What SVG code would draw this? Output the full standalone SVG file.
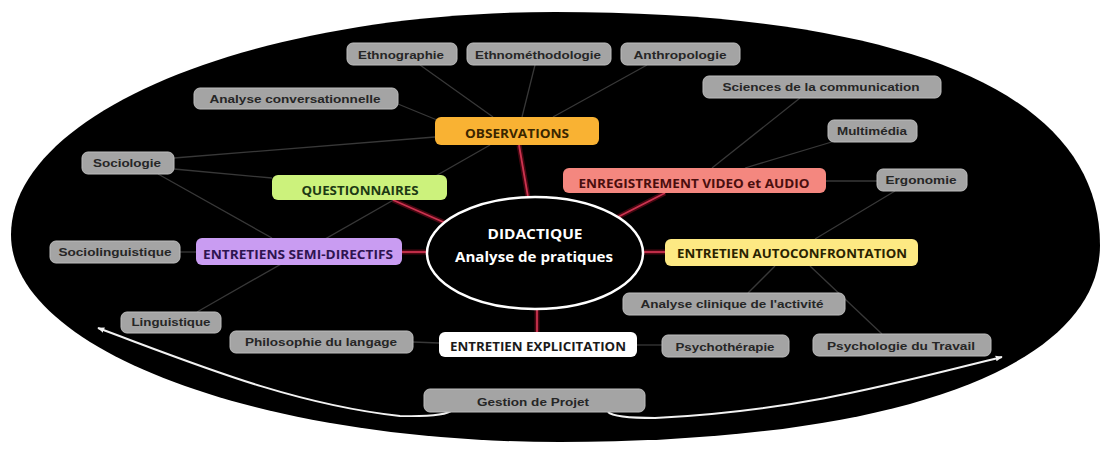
<svg xmlns="http://www.w3.org/2000/svg" width="1102" height="452" viewBox="0 0 1102 452">
<defs>
<style>
.g rect{fill:#a4a4a4;stroke:#bdbdbd;stroke-width:1}
.g text{font-family:"Liberation Sans",Arial,sans-serif;font-weight:bold;font-size:11.5px;fill:#262626;text-anchor:middle}
.c text{font-family:"Open Sans","Liberation Sans",sans-serif;font-weight:bold;font-size:12.5px;text-anchor:middle}
.gl{stroke:#383838;stroke-width:1.3;fill:none}
.rg{stroke:#ff1a3c;stroke-opacity:.28;stroke-width:5;fill:none}
.rl{stroke:#cc3350;stroke-width:1.8;fill:none}
.wa{stroke:#f2f2f2;stroke-width:2;fill:none}
</style>
<marker id="wh" viewBox="0 0 10 10" refX="9" refY="5" markerWidth="7" markerHeight="7" orient="auto" markerUnits="userSpaceOnUse">
<path d="M0,1 L10,5 L0,9 z" fill="#f2f2f2"/>
</marker>
</defs>
<rect x="0" y="0" width="1102" height="452" fill="#ffffff"/>
<path id="fond" d="M11,235 C11,112 255,12 555,12 C909,12 1100,94 1100,245 C1100,367 895,442 560,442 C257,442 11,349 11,235 Z" fill="#000000"/>

<g id="connectors">
<line class="gl" x1="420" y1="65" x2="493" y2="117"/>
<line class="gl" x1="535" y1="65" x2="522" y2="117"/>
<line class="gl" x1="647" y1="65" x2="553" y2="117"/>
<line class="gl" x1="398" y1="104" x2="437" y2="120"/>
<line class="gl" x1="174" y1="158" x2="435" y2="137"/>
<line class="gl" x1="174" y1="169" x2="272" y2="178"/>
<line class="gl" x1="158" y1="174" x2="272" y2="238"/>
<line class="gl" x1="197" y1="312" x2="490" y2="145"/>
<line class="gl" x1="180" y1="252" x2="196" y2="252"/>
<line class="gl" x1="413" y1="342" x2="439" y2="343"/>
<line class="gl" x1="637" y1="345" x2="662" y2="345"/>
<line class="gl" x1="748" y1="293" x2="775" y2="266"/>
<line class="gl" x1="810" y1="266" x2="882" y2="334"/>
<line class="gl" x1="895" y1="191" x2="815" y2="239"/>
<line class="gl" x1="826" y1="181" x2="877" y2="181"/>
<line class="gl" x1="835" y1="141" x2="745" y2="168"/>
<line class="gl" x1="800" y1="98" x2="712" y2="168"/>

<line class="rg" x1="519" y1="145" x2="528" y2="197"/>
<line class="rg" x1="393" y1="200" x2="450" y2="225"/>
<line class="rg" x1="665" y1="193" x2="614" y2="219"/>
<line class="rg" x1="402" y1="252" x2="428" y2="252"/>
<line class="rg" x1="665" y1="252" x2="642" y2="252"/>
<line class="rg" x1="537" y1="332" x2="537" y2="310"/>
<line class="rl" x1="519" y1="145" x2="528" y2="197"/>
<line class="rl" x1="393" y1="200" x2="450" y2="225"/>
<line class="rl" x1="665" y1="193" x2="614" y2="219"/>
<line class="rl" x1="402" y1="252" x2="428" y2="252"/>
<line class="rl" x1="665" y1="252" x2="642" y2="252"/>
<line class="rl" x1="537" y1="332" x2="537" y2="310"/>

<path class="wa" d="M452,410 Q446,417 400,416 C290,404 190,362 98,328" marker-end="url(#wh)"/>
<path class="wa" d="M608,412 Q614,418 655,418 C800,411 900,382 1002,357" marker-end="url(#wh)"/>
</g>

<g id="center">
<ellipse cx="535" cy="253" rx="108" ry="56" fill="#000000" stroke="#ffffff" stroke-width="2.5"/>
<text x="535" y="239" font-family="'Open Sans','Liberation Sans',sans-serif" font-weight="bold" font-size="15" fill="#ffffff" text-anchor="middle" textLength="95" lengthAdjust="spacingAndGlyphs">DIDACTIQUE</text>
<text x="534" y="262" font-family="'Open Sans','Liberation Sans',sans-serif" font-weight="bold" font-size="15" fill="#ffffff" text-anchor="middle" textLength="158" lengthAdjust="spacingAndGlyphs">Analyse de pratiques</text>
</g>

<g id="observations" class="c"><rect x="435" y="117" width="164" height="28" rx="6" fill="#f9b233"/><text x="517" y="138" fill="#3a2600" textLength="104" lengthAdjust="spacingAndGlyphs">OBSERVATIONS</text></g>
<g id="questionnaires" class="c"><rect x="272" y="175" width="175" height="25" rx="6" fill="#ccf27c"/><text x="360" y="195" fill="#1c3a14" textLength="117" lengthAdjust="spacingAndGlyphs">QUESTIONNAIRES</text></g>
<g id="enregistrement" class="c"><rect x="563" y="168" width="263" height="25" rx="6" fill="#f4877f"/><text x="694" y="188" fill="#4a0e0e" textLength="231" lengthAdjust="spacingAndGlyphs">ENREGISTREMENT VIDEO et AUDIO</text></g>
<g id="semidirectifs" class="c"><rect x="196" y="238" width="206" height="27" rx="6" fill="#c99cf2"/><text x="298" y="259" fill="#2e1450" textLength="190" lengthAdjust="spacingAndGlyphs">ENTRETIENS SEMI-DIRECTIFS</text></g>
<g id="autoconfrontation" class="c"><rect x="665" y="239" width="253" height="27" rx="6" fill="#fde983"/><text x="792" y="258" fill="#2a2200" textLength="230" lengthAdjust="spacingAndGlyphs">ENTRETIEN AUTOCONFRONTATION</text></g>
<g id="explicitation" class="c"><rect x="439" y="332" width="198" height="25" rx="6" fill="#ffffff"/><text x="538" y="351" fill="#1a1a1a" textLength="176" lengthAdjust="spacingAndGlyphs">ENTRETIEN EXPLICITATION</text></g>

<g id="ethnographie" class="g"><rect x="347" y="43" width="110" height="22" rx="6"/><text x="401" y="59" textLength="86" lengthAdjust="spacingAndGlyphs">Ethnographie</text></g>
<g id="ethnomethodologie" class="g"><rect x="467" y="43" width="144" height="22" rx="6"/><text x="538" y="59" textLength="126" lengthAdjust="spacingAndGlyphs">Ethnométhodologie</text></g>
<g id="anthropologie" class="g"><rect x="621" y="43" width="119" height="22" rx="6"/><text x="680" y="59" textLength="93" lengthAdjust="spacingAndGlyphs">Anthropologie</text></g>
<g id="analyseconv" class="g"><rect x="194" y="88" width="204" height="21" rx="6"/><text x="295" y="103" textLength="171" lengthAdjust="spacingAndGlyphs">Analyse conversationnelle</text></g>
<g id="sciencescomm" class="g"><rect x="703" y="76" width="238" height="22" rx="6"/><text x="821" y="91" textLength="197" lengthAdjust="spacingAndGlyphs">Sciences de la communication</text></g>
<g id="multimedia" class="g"><rect x="828" y="120" width="89" height="22" rx="6"/><text x="872" y="135" textLength="70" lengthAdjust="spacingAndGlyphs">Multimédia</text></g>
<g id="ergonomie" class="g"><rect x="877" y="169" width="90" height="22" rx="6"/><text x="921" y="184" textLength="71" lengthAdjust="spacingAndGlyphs">Ergonomie</text></g>
<g id="sociologie" class="g"><rect x="82" y="152" width="92" height="22" rx="6"/><text x="127" y="167" textLength="68" lengthAdjust="spacingAndGlyphs">Sociologie</text></g>
<g id="sociolinguistique" class="g"><rect x="50" y="241" width="130" height="22" rx="6"/><text x="115" y="256" textLength="113" lengthAdjust="spacingAndGlyphs">Sociolinguistique</text></g>
<g id="linguistique" class="g"><rect x="121" y="312" width="100" height="21" rx="6"/><text x="171" y="326" textLength="79" lengthAdjust="spacingAndGlyphs">Linguistique</text></g>
<g id="philosophie" class="g"><rect x="230" y="331" width="183" height="22" rx="6"/><text x="321" y="346" textLength="152" lengthAdjust="spacingAndGlyphs">Philosophie du langage</text></g>
<g id="analyseclinique" class="g"><rect x="623" y="293" width="222" height="22" rx="6"/><text x="732" y="308" textLength="183" lengthAdjust="spacingAndGlyphs">Analyse clinique de l'activité</text></g>
<g id="psychotherapie" class="g"><rect x="662" y="335" width="127" height="22" rx="6"/><text x="725" y="351" textLength="99" lengthAdjust="spacingAndGlyphs">Psychothérapie</text></g>
<g id="psychotravail" class="g"><rect x="813" y="334" width="178" height="22" rx="6"/><text x="901" y="350" textLength="148" lengthAdjust="spacingAndGlyphs">Psychologie du Travail</text></g>
<g id="gestionprojet" class="g"><rect x="424" y="389" width="221" height="23" rx="6"/><text x="533" y="406" textLength="112" lengthAdjust="spacingAndGlyphs">Gestion de Projet</text></g>
</svg>
